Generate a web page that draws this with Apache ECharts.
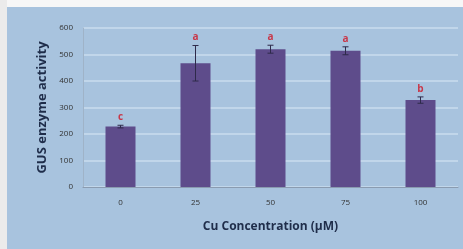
<!DOCTYPE html>
<html>
<head>
<meta charset="utf-8">
<script src="https://cdn.jsdelivr.net/npm/echarts@6/dist/echarts.min.js"></script>
<style>
  html, body { margin: 0; padding: 0; }
  #charts { width: 463px; height: 249px; }
</style>
</head>
<body>
<div id="charts"></div>
<script>
var myChart = echarts.init(document.getElementById('charts'));

var categories = ['0', '25', '50', '75', '100'];
var activity = [228, 467, 520, 514, 328];
var errors = [5, 67, 15, 15, 12];
var letters = ['c', 'a', 'a', 'a', 'b'];
var yTicks = [0, 100, 200, 300, 400, 500, 600];

var font = '"Open Sans", sans-serif';

// error bars and significance letters, drawn from the values above
function renderError(params, api) {
    var i = api.value(0);
    var v = api.value(1);
    var e = api.value(2);
    var top = api.coord([i, v + e]);
    var bot = api.coord([i, v - e]);
    var cap = 3;
    var style = { stroke: '#2e2a4a', lineWidth: 1 };
    return {
        type: 'group',
        children: [
            { type: 'line', shape: { x1: top[0], y1: top[1], x2: bot[0], y2: bot[1] }, style: style },
            { type: 'line', shape: { x1: top[0] - cap, y1: top[1], x2: top[0] + cap, y2: top[1] }, style: style },
            { type: 'line', shape: { x1: bot[0] - cap, y1: bot[1], x2: bot[0] + cap, y2: bot[1] }, style: style },
            { type: 'text', style: {
                text: letters[params.dataIndex], x: top[0], y: top[1] - 8,
                fill: '#c8384a', font: 'bold 10px ' + font,
                align: 'center', verticalAlign: 'middle' } }
        ]
    };
}

var errData = activity.map(function (v, i) { return [i, v, errors[i]]; });

myChart.setOption({
    backgroundColor: '#a8c3de',
    animation: false,
    graphic: [
        { type: 'rect', shape: { x: 0, y: 0, width: 463, height: 7 }, style: { fill: '#f7f7f7' }, z: 100 },
        { type: 'rect', shape: { x: 0, y: 0, width: 7, height: 249 }, style: { fill: '#ebebeb' }, z: 100 }
    ],
    grid: { left: 83, right: 5, top: 28, bottom: 62 },
    xAxis: {
        type: 'category',
        data: categories,
        name: 'Cu Concentration (\u00b5M)',
        nameLocation: 'middle',
        nameGap: 34,
        nameTextStyle: { color: '#1f2d4a', fontWeight: 'bold', fontSize: 12, fontFamily: font },
        axisLine: { lineStyle: { color: '#8a9bb0' } },
        axisTick: { show: false },
        axisLabel: { color: '#333', fontSize: 8, fontFamily: font, margin: 12 }
    },
    yAxis: {
        type: 'value',
        min: yTicks[0],
        max: yTicks[yTicks.length - 1],
        interval: 100,
        name: 'GUS enzyme activity',
        nameLocation: 'middle',
        nameGap: 27,
        nameTextStyle: { color: '#1f2d4a', fontWeight: 'bold', fontSize: 13, fontFamily: font },
        axisLine: { show: true, lineStyle: { color: '#9fb3c8' } },
        axisTick: { show: false },
        axisLabel: { color: '#333', fontSize: 8, fontFamily: font, margin: 10 },
        splitLine: { lineStyle: { color: '#cadcee', width: 1.5 } }
    },
    series: [
        {
            type: 'bar',
            data: activity,
            barWidth: '40%',
            itemStyle: { color: '#5e4c8b' }
        },
        {
            type: 'custom',
            renderItem: renderError,
            data: errData,
            z: 10
        }
    ]
});
</script>
</body>
</html>
